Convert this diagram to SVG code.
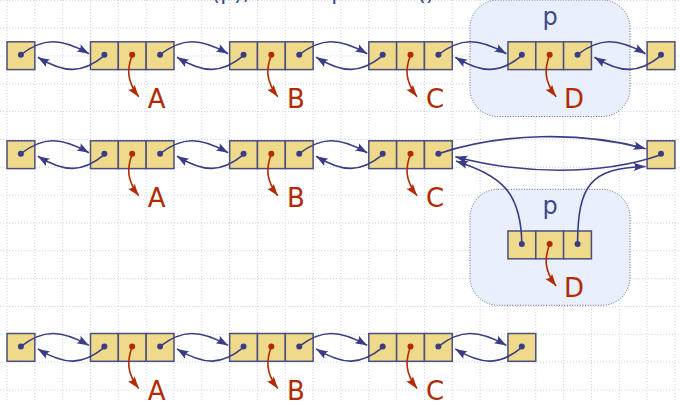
<svg xmlns="http://www.w3.org/2000/svg" width="681" height="402" viewBox="0 0 681 402">
<defs>
<style>
.grid{stroke:#cbd5ea;stroke-width:1;stroke-dasharray:1.2 1.8;fill:none}
.cell{fill:#efd98b;stroke:#4a4f80;stroke-width:1.5}
.pbox{fill:#e9effc;stroke:#5c6182;stroke-width:1;stroke-dasharray:1 1.6}
.bd{fill:#3a3d86}
.rd{fill:#b32a00}
.blk{fill:none;stroke:#3a3d86;stroke-width:1.6;marker-end:url(#ab)}
.rlk{fill:none;stroke:#b32a00;stroke-width:1.6;marker-end:url(#ar)}
.lbl{font-family:"DejaVu Sans",Verdana,sans-serif;font-size:26px;fill:#b32a00;text-anchor:middle}
.pl{font-family:"DejaVu Sans",Verdana,sans-serif;font-size:24px;fill:#3c4a8c;text-anchor:middle}
.ttl{font-family:"DejaVu Sans",Verdana,sans-serif;font-size:22px;fill:#3c4a8c}
</style>
<marker id="ab" markerUnits="userSpaceOnUse" markerWidth="14" markerHeight="10" refX="12" refY="5" orient="auto" overflow="visible">
<path d="M12,5 L0,0.8 Q3.5,5 0,9.2 Z" fill="#3a3d86"/>
</marker>
<marker id="ar" markerUnits="userSpaceOnUse" markerWidth="14" markerHeight="10" refX="12" refY="5" orient="auto" overflow="visible">
<path d="M12,5 L0,0.8 Q3.5,5 0,9.2 Z" fill="#b32a00"/>
</marker>
<g id="n1">
<rect class="cell" x="0" y="0" width="27.83" height="27.8"/>
</g>
<g id="n3">
<rect class="cell" x="0" y="0" width="27.83" height="27.8"/>
<rect class="cell" x="27.83" y="0" width="27.83" height="27.8"/>
<rect class="cell" x="55.66" y="0" width="27.83" height="27.8"/>
<circle class="bd" cx="13.9" cy="12.9" r="3"/>
<circle class="rd" cx="41.7" cy="12.9" r="3"/>
<circle class="bd" cx="69.6" cy="12.9" r="3"/>
</g>
</defs>
<rect width="681" height="402" fill="#ffffff"/>
<g id="grid" class="grid">
<path d="M7,0V402M34.83,0V402M62.66,0V402M90.49,0V402M118.32,0V402M146.15,0V402M173.98,0V402M201.81,0V402M229.64,0V402M257.47,0V402M285.3,0V402M313.13,0V402M340.96,0V402M368.79,0V402M396.62,0V402M424.45,0V402M452.28,0V402M480.11,0V402M507.94,0V402M535.77,0V402M563.6,0V402M591.43,0V402M619.26,0V402M647.09,0V402M674.92,0V402"/>
<path d="M0,0.3H681M0,28.13H681M0,55.96H681M0,83.79H681M0,111.62H681M0,139.45H681M0,167.28H681M0,195.11H681M0,222.94H681M0,250.77H681M0,278.6H681M0,306.43H681M0,334.26H681M0,362.09H681M0,389.92H681"/>
</g>
<text class="ttl" x="128" y="0">remove(p), where p = last()</text>
<g id="p-box-1">
<rect class="pbox" x="470" y="0" width="160" height="116.5" rx="28" ry="28"/>
<text class="pl" x="550" y="25">p</text>
</g>
<g id="p-box-2">
<rect class="pbox" x="470" y="189.3" width="160" height="116" rx="28" ry="28"/>
<text class="pl" x="550" y="213.5">p</text>
</g>
<g id="row1">
<g id="r1-header"><use href="#n1" x="7" y="41.8"/><circle class="bd" cx="20.9" cy="54.7" r="3"/></g>
<g id="r1-A"><use href="#n3" x="90.49" y="41.8"/></g>
<g id="r1-B"><use href="#n3" x="229.64" y="41.8"/></g>
<g id="r1-C"><use href="#n3" x="368.79" y="41.8"/></g>
<g id="r1-D"><use href="#n3" x="507.94" y="41.8"/></g>
<g id="r1-trailer"><use href="#n1" x="647.09" y="41.8"/><circle class="bd" cx="661" cy="54.7" r="3"/></g>
</g>
<g id="row2">
<g id="r2-header"><use href="#n1" x="7" y="140.8"/><circle class="bd" cx="20.9" cy="153.7" r="3"/></g>
<g id="r2-A"><use href="#n3" x="90.49" y="140.8"/></g>
<g id="r2-B"><use href="#n3" x="229.64" y="140.8"/></g>
<g id="r2-C"><use href="#n3" x="368.79" y="140.8"/></g>
<g id="r2-D"><use href="#n3" x="507.94" y="231"/></g>
<g id="r2-trailer"><use href="#n1" x="647.09" y="140.8"/><circle class="bd" cx="661" cy="153.7" r="3"/></g>
</g>
<g id="row3">
<g id="r3-header"><use href="#n1" x="7" y="333.5"/><circle class="bd" cx="20.9" cy="346.4" r="3"/></g>
<g id="r3-A"><use href="#n3" x="90.49" y="333.5"/></g>
<g id="r3-B"><use href="#n3" x="229.64" y="333.5"/></g>
<g id="r3-C"><use href="#n3" x="368.79" y="333.5"/></g>
<g id="r3-trailer"><use href="#n1" x="507.94" y="333.5"/><circle class="bd" cx="521.84" cy="346.4" r="3"/></g>
</g>
<g id="connectors">
<path class="blk" d="M20.9,54.7 C42.9,37.7 60.49,37.7 88.99,53.7"/>
<path class="blk" d="M104.39,55.7 C82.39,73.7 64.83,73.7 37.83,57.2"/>
<path class="blk" d="M160.07,54.7 C182.07,37.7 199.64,37.7 228.14,53.7"/>
<path class="blk" d="M243.54,55.7 C221.54,73.7 203.98,73.7 176.98,57.2"/>
<path class="blk" d="M299.22,54.7 C321.22,37.7 338.79,37.7 367.29,53.7"/>
<path class="blk" d="M382.69,55.7 C360.69,73.7 343.13,73.7 316.13,57.2"/>
<path class="blk" d="M438.37,54.7 C460.37,37.7 477.94,37.7 506.44,53.7"/>
<path class="blk" d="M521.84,55.7 C499.84,73.7 482.28,73.7 455.28,57.2"/>
<path class="blk" d="M577.52,54.7 C599.52,37.7 617.09,37.7 645.59,53.7"/>
<path class="blk" d="M661,55.7 C639,73.7 621.43,73.7 594.43,57.2"/>

<path class="blk" d="M20.9,153.7 C42.9,136.7 60.49,136.7 88.99,152.7"/>
<path class="blk" d="M104.39,154.7 C82.39,172.7 64.83,172.7 37.83,156.2"/>
<path class="blk" d="M160.07,153.7 C182.07,136.7 199.64,136.7 228.14,152.7"/>
<path class="blk" d="M243.54,154.7 C221.54,172.7 203.98,172.7 176.98,156.2"/>
<path class="blk" d="M299.22,153.7 C321.22,136.7 338.79,136.7 367.29,152.7"/>
<path class="blk" d="M382.69,154.7 C360.69,172.7 343.13,172.7 316.13,156.2"/>
<path class="blk" d="M438.37,153.7 C500,133 580,131 645.6,148.7"/>
<path class="blk" d="M661,154.7 C600,176 520,174 455.3,156.7"/>
<path class="blk" d="M521.84,243.9 C521,190 500,176 456,161"/>
<path class="blk" d="M577.52,243.9 C578,185 590,168 645.6,166.5"/>

<path class="blk" d="M20.9,346.4 C42.9,329.4 60.49,329.4 88.99,345.4"/>
<path class="blk" d="M104.39,347.4 C82.39,365.4 64.83,365.4 37.83,348.9"/>
<path class="blk" d="M160.07,346.4 C182.07,329.4 199.64,329.4 228.14,345.4"/>
<path class="blk" d="M243.54,347.4 C221.54,365.4 203.98,365.4 176.98,348.9"/>
<path class="blk" d="M299.22,346.4 C321.22,329.4 338.79,329.4 367.29,345.4"/>
<path class="blk" d="M382.69,347.4 C360.69,365.4 343.13,365.4 316.13,348.9"/>
<path class="blk" d="M438.37,346.4 C460.37,329.4 477.94,329.4 506.44,345.4"/>
<path class="blk" d="M521.84,347.4 C499.84,365.4 482.28,365.4 455.28,348.9"/>

<path class="rlk" d="M132.2,54.7 C127.2,68.7 126.2,80.7 138.7,96.7"/>
<path class="rlk" d="M271.3,54.7 C266.3,68.7 265.3,80.7 277.8,96.7"/>
<path class="rlk" d="M410.5,54.7 C405.5,68.7 404.5,80.7 417,96.7"/>
<path class="rlk" d="M549.6,54.7 C544.6,68.7 543.6,80.7 556.1,96.7"/>
<path class="rlk" d="M132.2,153.7 C127.2,167.7 126.2,179.7 138.7,195.7"/>
<path class="rlk" d="M271.3,153.7 C266.3,167.7 265.3,179.7 277.8,195.7"/>
<path class="rlk" d="M410.5,153.7 C405.5,167.7 404.5,179.7 417,195.7"/>
<path class="rlk" d="M549.6,243.9 C544.6,257.9 543.6,269.9 556.1,285.9"/>
<path class="rlk" d="M132.2,346.4 C127.2,360.4 126.2,372.4 138.7,388.4"/>
<path class="rlk" d="M271.3,346.4 C266.3,360.4 265.3,372.4 277.8,388.4"/>
<path class="rlk" d="M410.5,346.4 C405.5,360.4 404.5,372.4 417,388.4"/>
</g>
<g id="labels">
<text class="lbl" x="156.7" y="108.2">A</text>
<text class="lbl" x="295.8" y="108.2">B</text>
<text class="lbl" x="435" y="108.2">C</text>
<text class="lbl" x="574.1" y="108.2">D</text>
<text class="lbl" x="156.7" y="207.2">A</text>
<text class="lbl" x="295.8" y="207.2">B</text>
<text class="lbl" x="435" y="207.2">C</text>
<text class="lbl" x="574.1" y="297.4">D</text>
<text class="lbl" x="156.7" y="399.9">A</text>
<text class="lbl" x="295.8" y="399.9">B</text>
<text class="lbl" x="435" y="399.9">C</text>
</g>
</svg>
